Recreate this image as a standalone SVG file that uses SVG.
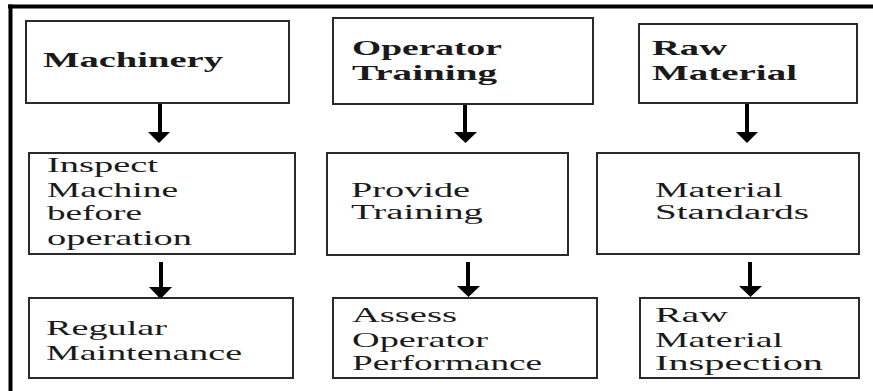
<svg xmlns="http://www.w3.org/2000/svg" width="873" height="391" viewBox="0 0 873 391">
<style>
.box{fill:#fff;stroke:#2a2a2a;stroke-width:2}
.t{font-size:22px;fill:#1a1a1a}
.s{font-size:20px}
.b{font-weight:bold}
.shaft{stroke:#000;stroke-width:4}
.head{fill:#000}
.frame{stroke:#000;stroke-width:4}
</style>
<rect width="873" height="391" fill="#fff"/>
<g id="frame">
<line class="frame" x1="8" y1="6.5" x2="873" y2="6.5"/>
<line class="frame" x1="10.5" y1="4.5" x2="10.5" y2="391"/>
</g>
<g id="connectors">
<line class="shaft" x1="160" y1="103" x2="160" y2="134"/>
<polygon class="head" points="148,132 170,132 159,143"/>
<line class="shaft" x1="161" y1="262" x2="161" y2="289"/>
<polygon class="head" points="149,287 172,287 160.5,299"/>
<line class="shaft" x1="465" y1="104" x2="465" y2="134"/>
<polygon class="head" points="454,132 477,132 465.5,143"/>
<line class="shaft" x1="468" y1="262" x2="468" y2="288"/>
<polygon class="head" points="457,286 480,286 468.5,297"/>
<line class="shaft" x1="747" y1="103" x2="747" y2="134"/>
<polygon class="head" points="736,132 758,132 747,143"/>
<line class="shaft" x1="750" y1="262" x2="750" y2="288"/>
<polygon class="head" points="739,286 762,286 750.5,297"/>
</g>
<g font-family="Liberation Serif, DejaVu Serif, serif">
<g id="machinery">
<rect class="box" x="26" y="21" width="263" height="82"/>
<text class="t b" x="43" y="67" textLength="180" lengthAdjust="spacingAndGlyphs">Machinery</text>
</g>
<g id="operator-training">
<rect class="box" x="333" y="18" width="260" height="86"/>
<text class="t b" x="352" y="55" textLength="150" lengthAdjust="spacingAndGlyphs">Operator</text>
<text class="t b" x="352" y="80" textLength="145" lengthAdjust="spacingAndGlyphs">Training</text>
</g>
<g id="raw-material">
<rect class="box" x="639" y="24" width="218" height="79"/>
<text class="t b" x="652" y="55" textLength="75" lengthAdjust="spacingAndGlyphs">Raw</text>
<text class="t b" x="652" y="80" textLength="145" lengthAdjust="spacingAndGlyphs">Material</text>
</g>
<g id="inspect-machine">
<rect class="box" x="29" y="153" width="266" height="101"/>
<text class="t" x="47" y="172" textLength="111" lengthAdjust="spacingAndGlyphs">Inspect</text>
<text class="t" x="47" y="197" textLength="131" lengthAdjust="spacingAndGlyphs">Machine</text>
<text class="t" x="47" y="220" textLength="95" lengthAdjust="spacingAndGlyphs">before</text>
<text class="t" x="47" y="245" textLength="145" lengthAdjust="spacingAndGlyphs">operation</text>
</g>
<g id="provide-training">
<rect class="box" x="327" y="153" width="241" height="102"/>
<text class="t s" x="351" y="197" textLength="119" lengthAdjust="spacingAndGlyphs">Provide</text>
<text class="t s" x="351" y="219" textLength="132" lengthAdjust="spacingAndGlyphs">Training</text>
</g>
<g id="material-standards">
<rect class="box" x="597" y="153" width="262" height="101"/>
<text class="t s" x="655" y="197" textLength="128" lengthAdjust="spacingAndGlyphs">Material</text>
<text class="t s" x="655" y="219" textLength="154" lengthAdjust="spacingAndGlyphs">Standards</text>
</g>
<g id="regular-maintenance">
<rect class="box" x="29" y="298" width="264" height="80"/>
<text class="t" x="46" y="335" textLength="121" lengthAdjust="spacingAndGlyphs">Regular</text>
<text class="t" x="46" y="360" textLength="196" lengthAdjust="spacingAndGlyphs">Maintenance</text>
</g>
<g id="assess-operator-performance">
<rect class="box" x="333" y="298" width="264" height="80"/>
<text class="t" x="352" y="322" textLength="105" lengthAdjust="spacingAndGlyphs">Assess</text>
<text class="t" x="352" y="347" textLength="136" lengthAdjust="spacingAndGlyphs">Operator</text>
<text class="t" x="352" y="370" textLength="190" lengthAdjust="spacingAndGlyphs">Performance</text>
</g>
<g id="raw-material-inspection">
<rect class="box" x="640" y="298" width="219" height="80"/>
<text class="t" x="655" y="322" textLength="73" lengthAdjust="spacingAndGlyphs">Raw</text>
<text class="t" x="655" y="347" textLength="128" lengthAdjust="spacingAndGlyphs">Material</text>
<text class="t" x="655" y="370" textLength="168" lengthAdjust="spacingAndGlyphs">Inspection</text>
</g>
</g>
</svg>
